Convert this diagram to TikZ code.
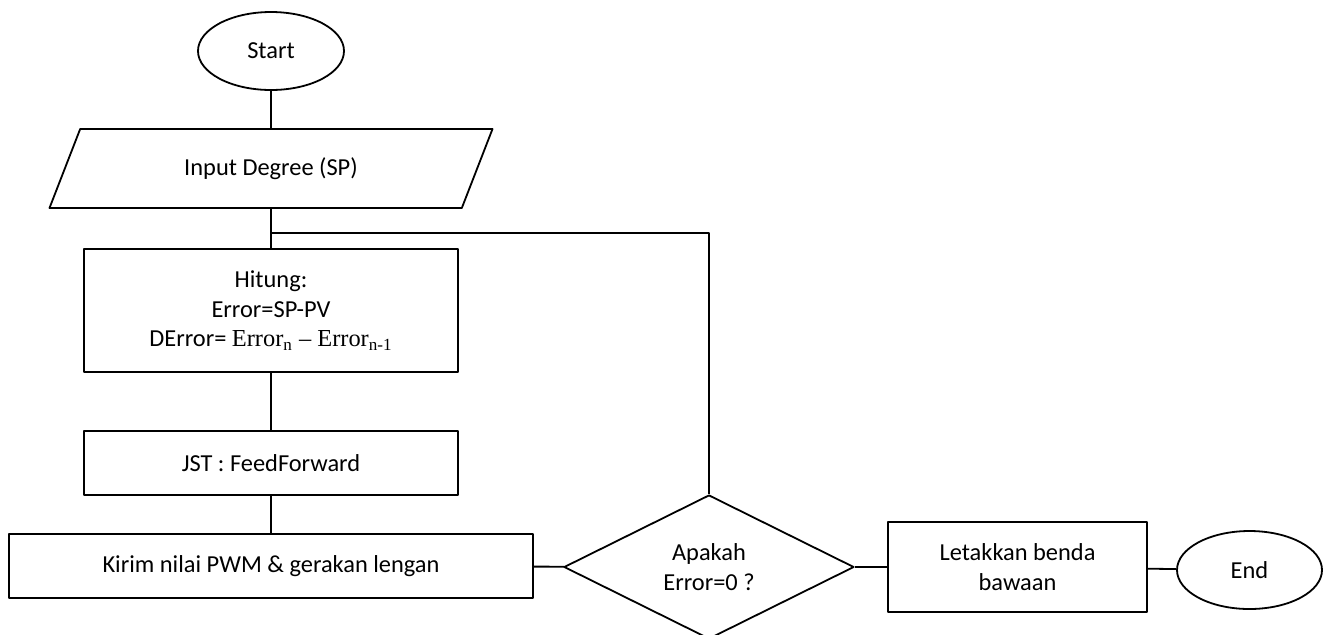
\documentclass[tikz,border=0pt]{standalone}
\usepackage{fontspec}
\setmainfont{Carlito}
\newfontfamily\tnr{Liberation Serif}
\usetikzlibrary{shapes.geometric}
\begin{document}
\begin{tikzpicture}[x=0.5pt,y=-0.5pt, line join=round, line width=0.9pt,
    font=\fontsize{12.2}{14.75}\selectfont,
    base/.style={draw, inner sep=0pt, align=center},
    term/.style={base, ellipse, minimum width=73pt, minimum height=39pt},
    proc/.style={base, rectangle, minimum width=187pt, minimum height=#1},
    io/.style={base, trapezium, trapezium left angle=35.7, trapezium right angle=144.3,
        trapezium stretches body, minimum width=221.5pt, minimum height=39.5pt},
    cond/.style={base, diamond, minimum width=145pt, minimum height=72pt}]
    \useasboundingbox (0,0) rectangle (1328,634);
    % alur utama
    \node[term] (start) at (271,51) {Start};
    \node[io] (input) at (271,168.5) {Input Degree (SP)};
    \node[proc=61.5pt] (hitung) at (271,310.5) {Hitung:\\Error=SP-PV\\
        DError= {\tnr Error\textsubscript{n} – Error\textsubscript{n-1}}};
    \node[proc=32pt] (jst) at (271,463) {JST : FeedForward};
    \node[proc=32pt, minimum width=262pt] (kirim) at (271,566) {Kirim nilai PWM \& gerakan lengan};
    \node[cond] (cek) at (709,567) {Apakah\\Error=0 ?};
    \node[proc=45pt, minimum width=129.5pt] (letak) at (1017.5,567) {Letakkan benda\\bawaan};
    \node[term, minimum width=72.5pt] (end) at (1249.5,570) {End};
    \coordinate (cab) at (271,233);
    \draw (start) -- (input);
    \draw (input) -- (hitung);
    \draw (hitung) -- (jst);
    \draw (jst) -- (kirim);
    \draw (kirim) -- (cek);
    \draw (cek) -- (letak);
    \draw (letak) -- (end);
    % kembali ke awal jika error belum nol
    \draw (cab) -| (cek.north);
\end{tikzpicture}
\end{document}
